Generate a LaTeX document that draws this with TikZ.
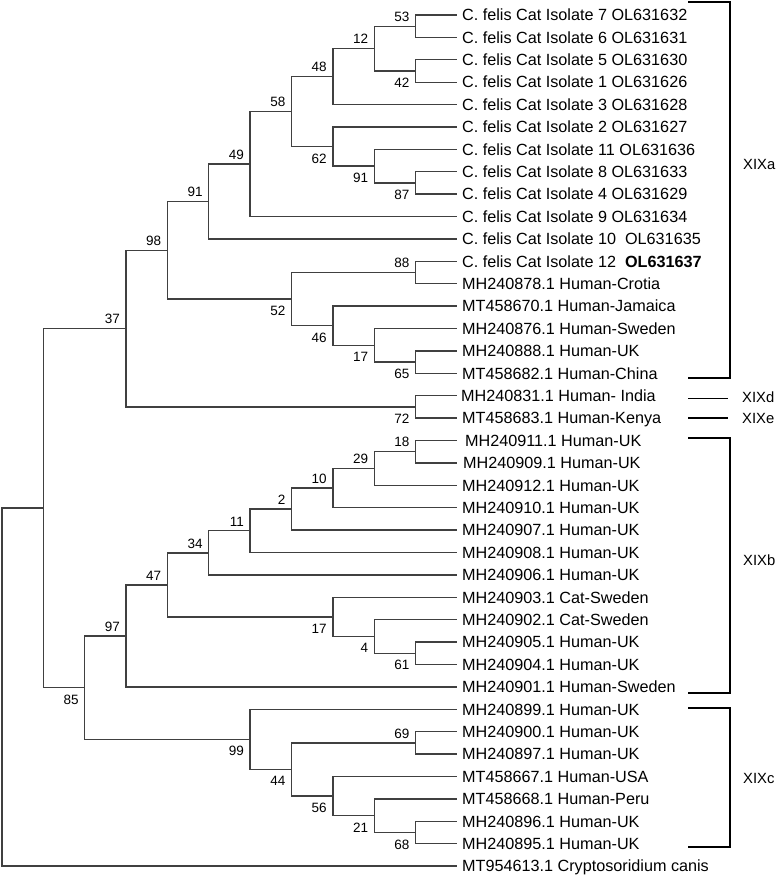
\documentclass[tikz,border=0pt]{standalone}
\usepackage{fontspec}
\setmainfont{Liberation Sans}
\usetikzlibrary{calc}
\begin{document}
\begin{tikzpicture}[x=1pt,y=-1pt,
  br/.style={draw=black!75, line width=1.35pt},
  leaf/.style={anchor=base west, inner sep=0pt, font=\fontsize{16.2}{19}\selectfont},
  bsa/.style={anchor=south east, inner sep=0pt, font=\fontsize{13.5}{16}\selectfont},
  bsb/.style={anchor=north east, inner sep=0pt, font=\fontsize{13.5}{16}\selectfont},
  clade/.style={draw=black, line width=1.9pt},
  cladelbl/.style={anchor=west, inner sep=0pt, font=\fontsize{14.8}{17}\selectfont}]
\useasboundingbox (0,0) rectangle (777,877);
% leaf tips
\foreach \i in {1,...,39} \coordinate (L\i) at (456.96, {15+22.395*(\i-1)});
% internal nodes (x by level, y by midpoint)
\coordinate (n53) at (415.6, 26.20);
\coordinate (n42) at (415.6, 70.99);
\coordinate (n12) at (374.24, 48.60);
\coordinate (n48) at (332.88, 76.59);
\coordinate (n87) at (415.6, 182.97);
\coordinate (n91b) at (374.24, 166.17);
\coordinate (n62) at (332.88, 146.58);
\coordinate (n58) at (291.52, 111.58);
\coordinate (n49) at (250.16, 164.07);
\coordinate (n91) at (208.8, 201.51);
\coordinate (n88) at (415.6, 272.55);
\coordinate (n65) at (415.6, 362.13);
\coordinate (n17) at (374.24, 345.33);
\coordinate (n46) at (332.88, 325.73);
\coordinate (n52) at (291.52, 299.14);
\coordinate (n98) at (167.44, 250.33);
\coordinate (n72) at (415.6, 406.92);
\coordinate (n37) at (126.08, 328.62);
\coordinate (n18) at (415.6, 451.70);
\coordinate (n29) at (374.24, 468.50);
\coordinate (n10) at (332.88, 488.10);
\coordinate (n2) at (291.52, 509.09);
\coordinate (n11) at (250.16, 530.79);
\coordinate (n34) at (208.8, 552.83);
\coordinate (n61) at (415.6, 653.26);
\coordinate (n4) at (374.24, 636.46);
\coordinate (n17b) at (332.88, 616.87);
\coordinate (n47) at (167.44, 584.85);
\coordinate (n97) at (126.08, 635.85);
\coordinate (n69) at (415.6, 742.84);
\coordinate (n68) at (415.6, 832.42);
\coordinate (n21) at (374.24, 815.62);
\coordinate (n56) at (332.88, 796.03);
\coordinate (n44) at (291.52, 769.43);
\coordinate (n99) at (250.16, 739.34);
\coordinate (n85) at (84.72, 687.60);
\coordinate (nX) at (43.36, 508.11);
\coordinate (root) at (2, 687.06);
% branches
\foreach \p/\c in {n53/L1,n53/L2,n42/L3,n42/L4,n12/n53,n12/n42,n48/n12,n48/L5,
  n87/L8,n87/L9,n91b/L7,n91b/n87,n62/L6,n62/n91b,n58/n48,n58/n62,n49/n58,n49/L10,
  n91/n49,n91/L11,n88/L12,n88/L13,n65/L16,n65/L17,n17/L15,n17/n65,n46/L14,n46/n17,
  n52/n88,n52/n46,n98/n91,n98/n52,n72/L18,n72/L19,n37/n98,n37/n72,
  n18/L20,n18/L21,n29/n18,n29/L22,n10/n29,n10/L23,n2/n10,n2/L24,n11/n2,n11/L25,
  n34/n11,n34/L26,n61/L29,n61/L30,n4/L28,n4/n61,n17b/L27,n17b/n4,n47/n34,n47/n17b,
  n97/n47,n97/L31,n69/L33,n69/L34,n68/L37,n68/L38,n21/L36,n21/n68,n56/L35,n56/n21,
  n44/n69,n44/n56,n99/L32,n99/n44,n85/n97,n85/n99,nX/n37,nX/n85,root/nX,root/L39}
  \draw[br] (\p) |- (\c);
% bootstrap values
\foreach \n/\t in {n53/53,n12/12,n48/48,n58/58,n49/49,n91/91,n98/98,n37/37,n88/88,
  n18/18,n29/29,n10/10,n2/2,n11/11,n34/34,n47/47,n97/97,n69/69}
  \node[bsa] at ($(\n)+(-6,-4.5)$) {\t};
\foreach \n/\t in {n42/42,n62/62,n91b/91,n87/87,n52/52,n46/46,n17/17,n65/65,n72/72,
  n17b/17,n4/4,n61/61,n85/85,n99/99,n44/44,n56/56,n21/21,n68/68}
  \node[bsb] at ($(\n)+(-6,7)$) {\t};
% leaf labels
\node[leaf] (t1) at ($(L1)+(5,5.8)$) {C. felis Cat Isolate 7 OL631632};
\node[leaf] (t2) at ($(L2)+(5,5.8)$) {C. felis Cat Isolate 6 OL631631};
\node[leaf] (t3) at ($(L3)+(5,5.8)$) {C. felis Cat Isolate 5 OL631630};
\node[leaf] (t4) at ($(L4)+(5,5.8)$) {C. felis Cat Isolate 1 OL631626};
\node[leaf] (t5) at ($(L5)+(5,5.8)$) {C. felis Cat Isolate 3 OL631628};
\node[leaf] (t6) at ($(L6)+(5,5.8)$) {C. felis Cat Isolate 2 OL631627};
\node[leaf] (t7) at ($(L7)+(5,5.8)$) {C. felis Cat Isolate 11 OL631636};
\node[leaf] (t8) at ($(L8)+(5,5.8)$) {C. felis Cat Isolate 8 OL631633};
\node[leaf] (t9) at ($(L9)+(5,5.8)$) {C. felis Cat Isolate 4 OL631629};
\node[leaf] (t10) at ($(L10)+(5,5.8)$) {C. felis Cat Isolate 9 OL631634};
\node[leaf] (t11) at ($(L11)+(5,5.8)$) {C. felis Cat Isolate 10 \ OL631635};
\node[leaf] (t12) at ($(L12)+(5,5.8)$) {C. felis Cat Isolate 12 \ \textbf{OL631637}};
\node[leaf] (t13) at ($(L13)+(5,5.8)$) {MH240878.1 Human-Crotia};
\node[leaf] (t14) at ($(L14)+(5,5.8)$) {MT458670.1 Human-Jamaica};
\node[leaf] (t15) at ($(L15)+(5,5.8)$) {MH240876.1 Human-Sweden};
\node[leaf] (t16) at ($(L16)+(5,5.8)$) {MH240888.1 Human-UK};
\node[leaf] (t17) at ($(L17)+(5,5.8)$) {MT458682.1 Human-China};
\node[leaf] (t18) at ($(L18)+(4,5.8)$) {MH240831.1 Human- India};
\node[leaf] (t19) at ($(L19)+(5,5.8)$) {MT458683.1 Human-Kenya};
\node[leaf] (t20) at ($(L20)+(8,5.8)$) {MH240911.1 Human-UK};
\node[leaf] (t21) at ($(L21)+(6,5.8)$) {MH240909.1 Human-UK};
\node[leaf] (t22) at ($(L22)+(5,5.8)$) {MH240912.1 Human-UK};
\node[leaf] (t23) at ($(L23)+(5,5.8)$) {MH240910.1 Human-UK};
\node[leaf] (t24) at ($(L24)+(5,5.8)$) {MH240907.1 Human-UK};
\node[leaf] (t25) at ($(L25)+(5,5.8)$) {MH240908.1 Human-UK};
\node[leaf] (t26) at ($(L26)+(5,5.8)$) {MH240906.1 Human-UK};
\node[leaf] (t27) at ($(L27)+(5,5.8)$) {MH240903.1 Cat-Sweden};
\node[leaf] (t28) at ($(L28)+(5,5.8)$) {MH240902.1 Cat-Sweden};
\node[leaf] (t29) at ($(L29)+(5,5.8)$) {MH240905.1 Human-UK};
\node[leaf] (t30) at ($(L30)+(5,5.8)$) {MH240904.1 Human-UK};
\node[leaf] (t31) at ($(L31)+(5,5.8)$) {MH240901.1 Human-Sweden};
\node[leaf] (t32) at ($(L32)+(5,5.8)$) {MH240899.1 Human-UK};
\node[leaf] (t33) at ($(L33)+(5,5.8)$) {MH240900.1 Human-UK};
\node[leaf] (t34) at ($(L34)+(5,5.8)$) {MH240897.1 Human-UK};
\node[leaf] (t35) at ($(L35)+(5,5.8)$) {MT458667.1 Human-USA};
\node[leaf] (t36) at ($(L36)+(5,5.8)$) {MT458668.1 Human-Peru};
\node[leaf] (t37) at ($(L37)+(5,5.8)$) {MH240896.1 Human-UK};
\node[leaf] (t38) at ($(L38)+(5,5.8)$) {MH240895.1 Human-UK};
\node[leaf] (t39) at ($(L39)+(5,5.8)$) {MT954613.1 Cryptosoridium canis};
% clade brackets
\coordinate (a1) at (688,1.8); \coordinate (a2) at (730,1.8);
\coordinate (a3) at (730,378); \coordinate (a4) at (688,378);
\draw[clade] (a1) -- (a2) -- (a3) -- (a4);
\coordinate (d1) at (688,398.5); \coordinate (d2) at (728,398.5);
\draw[clade, line width=1.6pt] (d1) -- (d2);
\coordinate (e1) at (688,418); \coordinate (e2) at (728,418);
\draw[clade, line width=1.6pt] (e1) -- (e2);
\coordinate (b1) at (688,438); \coordinate (b2) at (730,438);
\coordinate (b3) at (730,693); \coordinate (b4) at (688,693);
\draw[clade] (b1) -- (b2) -- (b3) -- (b4);
\coordinate (c1) at (688,708.3); \coordinate (c2) at (730,708.3);
\coordinate (c3) at (730,846.7); \coordinate (c4) at (688,846.7);
\draw[clade] (c1) -- (c2) -- (c3) -- (c4);
\node[cladelbl] (XIXa) at (743,164) {XIXa};
\node[cladelbl] (XIXd) at (742,397) {XIXd};
\node[cladelbl] (XIXe) at (742,418) {XIXe};
\node[cladelbl] (XIXb) at (743,560) {XIXb};
\node[cladelbl] (XIXc) at (743,778) {XIXc};
\end{tikzpicture}
\end{document}
